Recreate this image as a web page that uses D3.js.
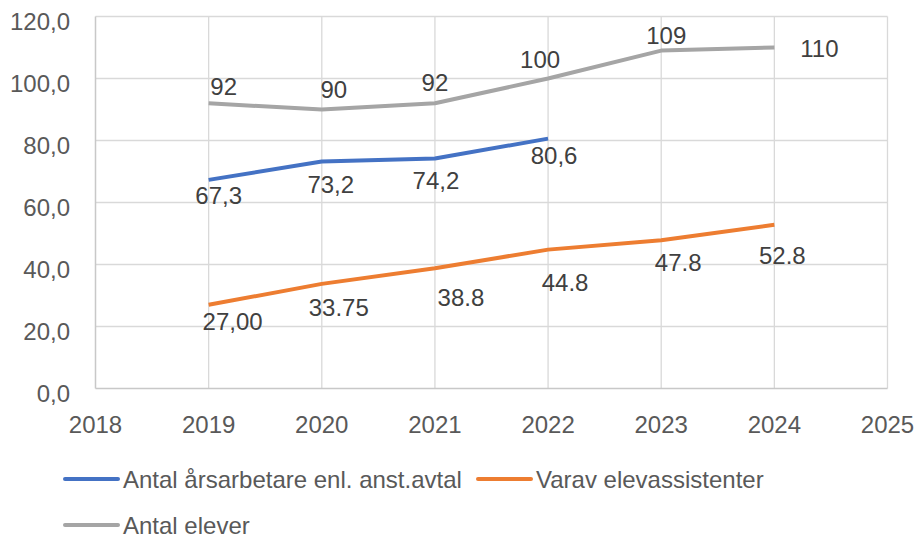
<!DOCTYPE html>
<html>
<head>
<meta charset="utf-8">
<script src="https://cdn.jsdelivr.net/npm/d3@7"></script>
<style>
  body { margin: 0; background: #fff; }
  svg text { font-family: "Liberation Sans", Arial, sans-serif; }
</style>
</head>
<body>
<svg id="chart"></svg>
<script>
const years = [2019, 2020, 2021, 2022, 2023, 2024];
const arsarbetare = [67.3, 73.2, 74.2, 80.6];
const elevassistenter = [27, 33.75, 38.8, 44.8, 47.8, 52.8];
const elever = [92, 90, 92, 100, 109, 110];

const arsarbetareLabels = ['67,3', '73,2', '74,2', '80,6'];
const elevassistenterLabels = ['27,00', '33.75', '38.8', '44.8', '47.8', '52.8'];
const eleverLabels = ['92', '90', '92', '100', '109', '110'];

const xTicks = [2018, 2019, 2020, 2021, 2022, 2023, 2024, 2025];
const yTicks = [0, 20, 40, 60, 80, 100, 120];

// label nudges (label centre relative to point), as placed in the original
const arsarbetareOffsets = [[10, 16], [9, 23], [1, 22], [6, 17]];
const elevassistenterOffsets = [[24, 17], [17, 24], [26, 29], [17, 33], [17, 22], [8, 31]];
const eleverOffsets = [[15, -17], [12, -20], [0, -21], [-8, -19], [5, -15], [45, 1]];

const width = 916, height = 537;
const svg = d3.select('#chart').attr('width', width).attr('height', height);

const x = d3.scaleLinear().domain([2018, 2025]).range([95.5, 887.5]);
const y = d3.scaleLinear().domain([0, 120]).range([388.5, 16.5]);

const fmtY = d => d3.format('.1f')(d).replace('.', ',');

// grid
const grid = svg.append('g');
grid.selectAll('.hg').data(yTicks.filter(d => d > 0)).join('line')
    .attr('x1', x(2018)).attr('x2', x(2025))
    .attr('y1', d => y(d)).attr('y2', d => y(d))
    .attr('stroke', '#d9d9d9').attr('stroke-width', 1.3);
grid.selectAll('.vg').data(xTicks.filter(d => d > 2018)).join('line')
    .attr('x1', d => x(d)).attr('x2', d => x(d))
    .attr('y1', y(0)).attr('y2', y(120))
    .attr('stroke', '#d9d9d9').attr('stroke-width', 1.3);

// axes lines
svg.append('line').attr('x1', x(2018)).attr('x2', x(2018)).attr('y1', y(0)).attr('y2', y(120))
    .attr('stroke', '#c8c8c8').attr('stroke-width', 1.5);
svg.append('line').attr('x1', x(2018)).attr('x2', x(2025)).attr('y1', y(0)).attr('y2', y(0))
    .attr('stroke', '#c8c8c8').attr('stroke-width', 1.5);

// tick labels
svg.append('g').selectAll('text').data(yTicks).join('text')
    .attr('x', 70).attr('y', d => y(d) + 5)
    .attr('text-anchor', 'end').attr('dominant-baseline', 'central')
    .attr('font-size', 24).attr('fill', '#595959')
    .text(fmtY);
svg.append('g').selectAll('text').data(xTicks).join('text')
    .attr('x', d => x(d)).attr('y', 424)
    .attr('text-anchor', 'middle').attr('dominant-baseline', 'central')
    .attr('font-size', 24).attr('fill', '#595959')
    .text(d => d);

const line = d3.line().x(d => x(d[0])).y(d => y(d[1]));

const series = [
  { values: elever, labels: eleverLabels, offsets: eleverOffsets, color: '#a5a5a5' },
  { values: arsarbetare, labels: arsarbetareLabels, offsets: arsarbetareOffsets, color: '#4472c4' },
  { values: elevassistenter, labels: elevassistenterLabels, offsets: elevassistenterOffsets, color: '#ed7d31' }
];

series.forEach(s => {
  const pts = s.values.map((v, i) => [years[i], v]);
  svg.append('path').datum(pts)
      .attr('d', line)
      .attr('fill', 'none')
      .attr('stroke', s.color)
      .attr('stroke-width', 4)
      .attr('stroke-linejoin', 'round');
  svg.append('g').selectAll('text').data(pts).join('text')
      .attr('x', (d, i) => x(d[0]) + s.offsets[i][0])
      .attr('y', (d, i) => y(d[1]) + s.offsets[i][1])
      .attr('text-anchor', 'middle').attr('dominant-baseline', 'central')
      .attr('font-size', 24).attr('fill', '#404040')
      .text((d, i) => s.labels[i]);
});

// legend
const legendItems = [
  { name: 'Antal årsarbetare enl. anst.avtal', color: '#4472c4', lx: 65, ly: 479 },
  { name: 'Varav elevassistenter', color: '#ed7d31', lx: 478, ly: 479 },
  { name: 'Antal elever', color: '#a5a5a5', lx: 65, ly: 525 }
];
const legend = svg.append('g').selectAll('g').data(legendItems).join('g')
    .attr('transform', d => `translate(${d.lx},${d.ly})`);
legend.append('line').attr('x1', 0).attr('x2', 53).attr('y1', 0).attr('y2', 0)
    .attr('stroke', d => d.color).attr('stroke-width', 4).attr('stroke-linecap', 'round');
legend.append('text').attr('x', 58).attr('y', 0)
    .attr('dominant-baseline', 'central')
    .attr('font-size', 24).attr('fill', '#595959')
    .text(d => d.name);
</script>
</body>
</html>
